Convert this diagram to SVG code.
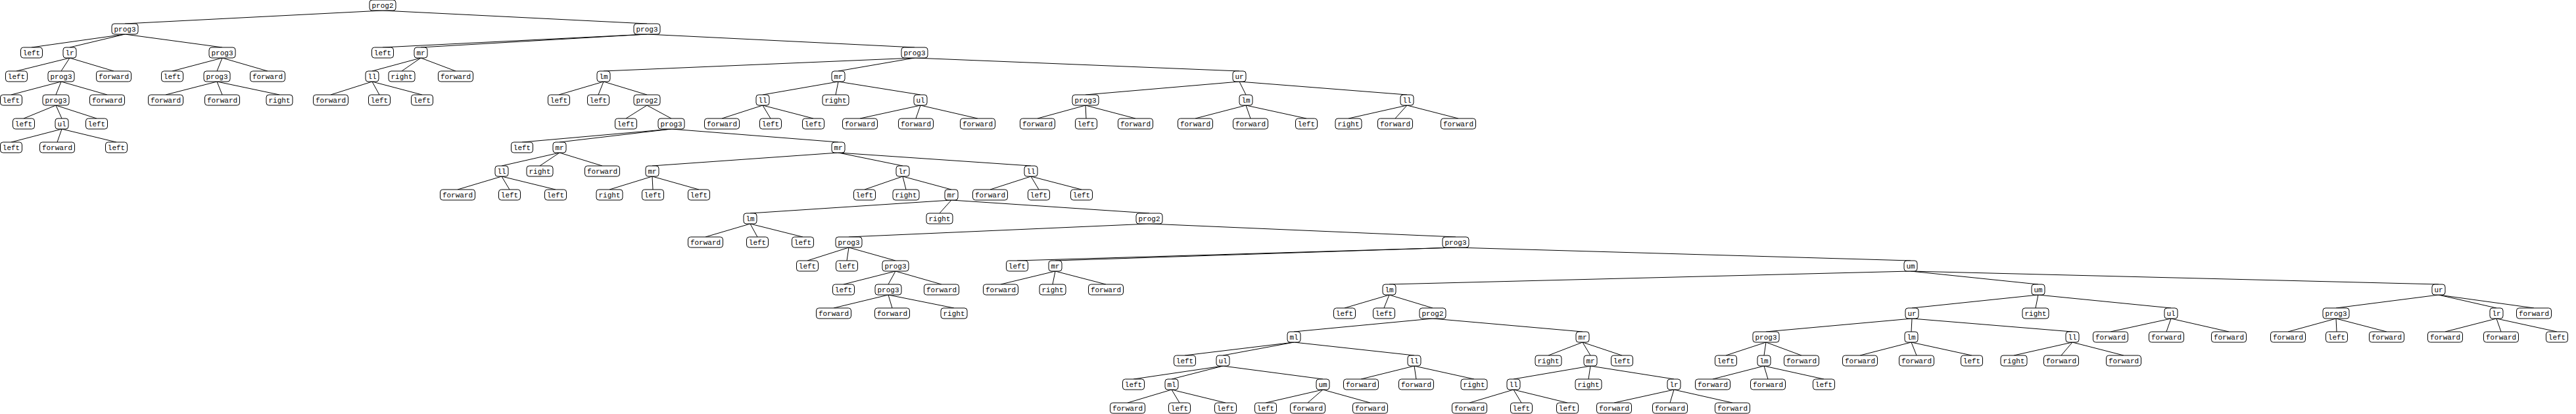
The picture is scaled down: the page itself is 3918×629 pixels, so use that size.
<svg xmlns="http://www.w3.org/2000/svg" width="3918" height="629" viewBox="0 0 3918 629">
<style>
.n rect{fill:#fff;stroke:#000;stroke-width:1;rx:4;ry:4}
.n text{font-family:"Liberation Mono","DejaVu Sans Mono",monospace;font-size:11px;text-anchor:middle;fill:#000}
#edges line{stroke:#000;stroke-width:1}
</style>
<rect width="3918" height="629" fill="#fff"/>
<g id="edges">
<line x1="582" y1="16" x2="190" y2="36"/><line x1="582" y1="16" x2="984" y2="36"/>
<line x1="190" y1="52" x2="48" y2="72"/><line x1="190" y1="52" x2="106" y2="72"/><line x1="190" y1="52" x2="338" y2="72"/>
<line x1="984" y1="52" x2="582" y2="72"/><line x1="984" y1="52" x2="640" y2="72"/><line x1="984" y1="52" x2="1391" y2="72"/>
<line x1="106" y1="88" x2="25" y2="108"/><line x1="106" y1="88" x2="93" y2="108"/><line x1="106" y1="88" x2="173" y2="108"/>
<line x1="338" y1="88" x2="262" y2="108"/><line x1="338" y1="88" x2="330" y2="108"/><line x1="338" y1="88" x2="407" y2="108"/>
<line x1="640" y1="88" x2="566" y2="108"/><line x1="640" y1="88" x2="611" y2="108"/><line x1="640" y1="88" x2="693" y2="108"/>
<line x1="1391" y1="88" x2="918" y2="108"/><line x1="1391" y1="88" x2="1275" y2="108"/><line x1="1391" y1="88" x2="1885" y2="108"/>
<line x1="93" y1="124" x2="17" y2="144"/><line x1="93" y1="124" x2="85" y2="144"/><line x1="93" y1="124" x2="163" y2="144"/>
<line x1="330" y1="124" x2="252" y2="144"/><line x1="330" y1="124" x2="338" y2="144"/><line x1="330" y1="124" x2="425" y2="144"/>
<line x1="566" y1="124" x2="503" y2="144"/><line x1="566" y1="124" x2="577" y2="144"/><line x1="566" y1="124" x2="642" y2="144"/>
<line x1="918" y1="124" x2="850" y2="144"/><line x1="918" y1="124" x2="910" y2="144"/><line x1="918" y1="124" x2="984" y2="144"/>
<line x1="1275" y1="124" x2="1160" y2="144"/><line x1="1275" y1="124" x2="1271" y2="144"/><line x1="1275" y1="124" x2="1400" y2="144"/>
<line x1="1885" y1="124" x2="1651" y2="144"/><line x1="1885" y1="124" x2="1895" y2="144"/><line x1="1885" y1="124" x2="2140" y2="144"/>
<line x1="85" y1="160" x2="36" y2="180"/><line x1="85" y1="160" x2="94" y2="180"/><line x1="85" y1="160" x2="147" y2="180"/>
<line x1="984" y1="160" x2="952" y2="180"/><line x1="984" y1="160" x2="1021" y2="180"/>
<line x1="1160" y1="160" x2="1098" y2="180"/><line x1="1160" y1="160" x2="1172" y2="180"/><line x1="1160" y1="160" x2="1237" y2="180"/>
<line x1="1400" y1="160" x2="1308" y2="180"/><line x1="1400" y1="160" x2="1393" y2="180"/><line x1="1400" y1="160" x2="1487" y2="180"/>
<line x1="1651" y1="160" x2="1578" y2="180"/><line x1="1651" y1="160" x2="1652" y2="180"/><line x1="1651" y1="160" x2="1727" y2="180"/>
<line x1="1895" y1="160" x2="1818" y2="180"/><line x1="1895" y1="160" x2="1902" y2="180"/><line x1="1895" y1="160" x2="1987" y2="180"/>
<line x1="2140" y1="160" x2="2051" y2="180"/><line x1="2140" y1="160" x2="2122" y2="180"/><line x1="2140" y1="160" x2="2218" y2="180"/>
<line x1="94" y1="196" x2="17" y2="216"/><line x1="94" y1="196" x2="87" y2="216"/><line x1="94" y1="196" x2="177" y2="216"/>
<line x1="1021" y1="196" x2="794" y2="216"/><line x1="1021" y1="196" x2="851" y2="216"/><line x1="1021" y1="196" x2="1275" y2="216"/>
<line x1="851" y1="232" x2="763" y2="252"/><line x1="851" y1="232" x2="821" y2="252"/><line x1="851" y1="232" x2="916" y2="252"/>
<line x1="1275" y1="232" x2="992" y2="252"/><line x1="1275" y1="232" x2="1373" y2="252"/><line x1="1275" y1="232" x2="1568" y2="252"/>
<line x1="763" y1="268" x2="696" y2="288"/><line x1="763" y1="268" x2="775" y2="288"/><line x1="763" y1="268" x2="845" y2="288"/>
<line x1="992" y1="268" x2="927" y2="288"/><line x1="992" y1="268" x2="993" y2="288"/><line x1="992" y1="268" x2="1063" y2="288"/>
<line x1="1373" y1="268" x2="1315" y2="288"/><line x1="1373" y1="268" x2="1378" y2="288"/><line x1="1373" y1="268" x2="1447" y2="288"/>
<line x1="1568" y1="268" x2="1506" y2="288"/><line x1="1568" y1="268" x2="1580" y2="288"/><line x1="1568" y1="268" x2="1645" y2="288"/>
<line x1="1447" y1="304" x2="1141" y2="324"/><line x1="1447" y1="304" x2="1429" y2="324"/><line x1="1447" y1="304" x2="1748" y2="324"/>
<line x1="1141" y1="340" x2="1073" y2="360"/><line x1="1141" y1="340" x2="1152" y2="360"/><line x1="1141" y1="340" x2="1221" y2="360"/>
<line x1="1748" y1="340" x2="1291" y2="360"/><line x1="1748" y1="340" x2="2214" y2="360"/>
<line x1="1291" y1="376" x2="1228" y2="396"/><line x1="1291" y1="376" x2="1288" y2="396"/><line x1="1291" y1="376" x2="1362" y2="396"/>
<line x1="2214" y1="376" x2="1547" y2="396"/><line x1="2214" y1="376" x2="1605" y2="396"/><line x1="2214" y1="376" x2="2906" y2="396"/>
<line x1="1362" y1="412" x2="1283" y2="432"/><line x1="1362" y1="412" x2="1351" y2="432"/><line x1="1362" y1="412" x2="1432" y2="432"/>
<line x1="1605" y1="412" x2="1522" y2="432"/><line x1="1605" y1="412" x2="1601" y2="432"/><line x1="1605" y1="412" x2="1682" y2="432"/>
<line x1="2906" y1="412" x2="2113" y2="432"/><line x1="2906" y1="412" x2="3100" y2="432"/><line x1="2906" y1="412" x2="3709" y2="432"/>
<line x1="1351" y1="448" x2="1268" y2="468"/><line x1="1351" y1="448" x2="1357" y2="468"/><line x1="1351" y1="448" x2="1451" y2="468"/>
<line x1="2113" y1="448" x2="2045" y2="468"/><line x1="2113" y1="448" x2="2105" y2="468"/><line x1="2113" y1="448" x2="2179" y2="468"/>
<line x1="3100" y1="448" x2="2908" y2="468"/><line x1="3100" y1="448" x2="3096" y2="468"/><line x1="3100" y1="448" x2="3302" y2="468"/>
<line x1="3709" y1="448" x2="3553" y2="468"/><line x1="3709" y1="448" x2="3797" y2="468"/><line x1="3709" y1="448" x2="3854" y2="468"/>
<line x1="2179" y1="484" x2="1968" y2="504"/><line x1="2179" y1="484" x2="2407" y2="504"/>
<line x1="2908" y1="484" x2="2686" y2="504"/><line x1="2908" y1="484" x2="2907" y2="504"/><line x1="2908" y1="484" x2="3152" y2="504"/>
<line x1="3302" y1="484" x2="3210" y2="504"/><line x1="3302" y1="484" x2="3295" y2="504"/><line x1="3302" y1="484" x2="3390" y2="504"/>
<line x1="3553" y1="484" x2="3480" y2="504"/><line x1="3553" y1="484" x2="3554" y2="504"/><line x1="3553" y1="484" x2="3630" y2="504"/>
<line x1="3797" y1="484" x2="3719" y2="504"/><line x1="3797" y1="484" x2="3804" y2="504"/><line x1="3797" y1="484" x2="3889" y2="504"/>
<line x1="1968" y1="520" x2="1802" y2="540"/><line x1="1968" y1="520" x2="1860" y2="540"/><line x1="1968" y1="520" x2="2151" y2="540"/>
<line x1="2407" y1="520" x2="2355" y2="540"/><line x1="2407" y1="520" x2="2419" y2="540"/><line x1="2407" y1="520" x2="2467" y2="540"/>
<line x1="2686" y1="520" x2="2625" y2="540"/><line x1="2686" y1="520" x2="2683" y2="540"/><line x1="2686" y1="520" x2="2740" y2="540"/>
<line x1="2907" y1="520" x2="2829" y2="540"/><line x1="2907" y1="520" x2="2915" y2="540"/><line x1="2907" y1="520" x2="2999" y2="540"/>
<line x1="3152" y1="520" x2="3063" y2="540"/><line x1="3152" y1="520" x2="3135" y2="540"/><line x1="3152" y1="520" x2="3230" y2="540"/>
<line x1="1860" y1="556" x2="1724" y2="576"/><line x1="1860" y1="556" x2="1782" y2="576"/><line x1="1860" y1="556" x2="2012" y2="576"/>
<line x1="2151" y1="556" x2="2070" y2="576"/><line x1="2151" y1="556" x2="2154" y2="576"/><line x1="2151" y1="556" x2="2242" y2="576"/>
<line x1="2419" y1="556" x2="2302" y2="576"/><line x1="2419" y1="556" x2="2416" y2="576"/><line x1="2419" y1="556" x2="2546" y2="576"/>
<line x1="2683" y1="556" x2="2605" y2="576"/><line x1="2683" y1="556" x2="2689" y2="576"/><line x1="2683" y1="556" x2="2774" y2="576"/>
<line x1="1782" y1="592" x2="1715" y2="612"/><line x1="1782" y1="592" x2="1794" y2="612"/><line x1="1782" y1="592" x2="1864" y2="612"/>
<line x1="2012" y1="592" x2="1925" y2="612"/><line x1="2012" y1="592" x2="1989" y2="612"/><line x1="2012" y1="592" x2="2084" y2="612"/>
<line x1="2302" y1="592" x2="2235" y2="612"/><line x1="2302" y1="592" x2="2314" y2="612"/><line x1="2302" y1="592" x2="2384" y2="612"/>
<line x1="2546" y1="592" x2="2455" y2="612"/><line x1="2546" y1="592" x2="2540" y2="612"/><line x1="2546" y1="592" x2="2635" y2="612"/>
</g>
<g id="nodes">
<g id="n0" class="n"><rect x="562" y="0" width="40" height="16"/><text x="582" y="12">prog2</text></g>
<g id="n1" class="n"><rect x="170" y="36" width="40" height="16"/><text x="190" y="48">prog3</text></g>
<g id="n2" class="n"><rect x="964" y="36" width="40" height="16"/><text x="984" y="48">prog3</text></g>
<g id="n3" class="n"><rect x="31.5" y="72" width="33" height="16"/><text x="48" y="84">left</text></g>
<g id="n4" class="n"><rect x="96" y="72" width="20" height="16"/><text x="106" y="84">lr</text></g>
<g id="n5" class="n"><rect x="318" y="72" width="40" height="16"/><text x="338" y="84">prog3</text></g>
<g id="n6" class="n"><rect x="565.5" y="72" width="33" height="16"/><text x="582" y="84">left</text></g>
<g id="n7" class="n"><rect x="630" y="72" width="20" height="16"/><text x="640" y="84">mr</text></g>
<g id="n8" class="n"><rect x="1371" y="72" width="40" height="16"/><text x="1391" y="84">prog3</text></g>
<g id="n9" class="n"><rect x="8.5" y="108" width="33" height="16"/><text x="25" y="120">left</text></g>
<g id="n10" class="n"><rect x="73" y="108" width="40" height="16"/><text x="93" y="120">prog3</text></g>
<g id="n11" class="n"><rect x="146.5" y="108" width="53" height="16"/><text x="173" y="120">forward</text></g>
<g id="n12" class="n"><rect x="245.5" y="108" width="33" height="16"/><text x="262" y="120">left</text></g>
<g id="n13" class="n"><rect x="310" y="108" width="40" height="16"/><text x="330" y="120">prog3</text></g>
<g id="n14" class="n"><rect x="380.5" y="108" width="53" height="16"/><text x="407" y="120">forward</text></g>
<g id="n15" class="n"><rect x="556" y="108" width="20" height="16"/><text x="566" y="120">ll</text></g>
<g id="n16" class="n"><rect x="591" y="108" width="40" height="16"/><text x="611" y="120">right</text></g>
<g id="n17" class="n"><rect x="666.5" y="108" width="53" height="16"/><text x="693" y="120">forward</text></g>
<g id="n18" class="n"><rect x="908" y="108" width="20" height="16"/><text x="918" y="120">lm</text></g>
<g id="n19" class="n"><rect x="1265" y="108" width="20" height="16"/><text x="1275" y="120">mr</text></g>
<g id="n20" class="n"><rect x="1875" y="108" width="20" height="16"/><text x="1885" y="120">ur</text></g>
<g id="n21" class="n"><rect x="0.5" y="144" width="33" height="16"/><text x="17" y="156">left</text></g>
<g id="n22" class="n"><rect x="65" y="144" width="40" height="16"/><text x="85" y="156">prog3</text></g>
<g id="n23" class="n"><rect x="136.5" y="144" width="53" height="16"/><text x="163" y="156">forward</text></g>
<g id="n24" class="n"><rect x="225.5" y="144" width="53" height="16"/><text x="252" y="156">forward</text></g>
<g id="n25" class="n"><rect x="311.5" y="144" width="53" height="16"/><text x="338" y="156">forward</text></g>
<g id="n26" class="n"><rect x="405" y="144" width="40" height="16"/><text x="425" y="156">right</text></g>
<g id="n27" class="n"><rect x="476.5" y="144" width="53" height="16"/><text x="503" y="156">forward</text></g>
<g id="n28" class="n"><rect x="560.5" y="144" width="33" height="16"/><text x="577" y="156">left</text></g>
<g id="n29" class="n"><rect x="625.5" y="144" width="33" height="16"/><text x="642" y="156">left</text></g>
<g id="n30" class="n"><rect x="833.5" y="144" width="33" height="16"/><text x="850" y="156">left</text></g>
<g id="n31" class="n"><rect x="893.5" y="144" width="33" height="16"/><text x="910" y="156">left</text></g>
<g id="n32" class="n"><rect x="964" y="144" width="40" height="16"/><text x="984" y="156">prog2</text></g>
<g id="n33" class="n"><rect x="1150" y="144" width="20" height="16"/><text x="1160" y="156">ll</text></g>
<g id="n34" class="n"><rect x="1251" y="144" width="40" height="16"/><text x="1271" y="156">right</text></g>
<g id="n35" class="n"><rect x="1390" y="144" width="20" height="16"/><text x="1400" y="156">ul</text></g>
<g id="n36" class="n"><rect x="1631" y="144" width="40" height="16"/><text x="1651" y="156">prog3</text></g>
<g id="n37" class="n"><rect x="1885" y="144" width="20" height="16"/><text x="1895" y="156">lm</text></g>
<g id="n38" class="n"><rect x="2130" y="144" width="20" height="16"/><text x="2140" y="156">ll</text></g>
<g id="n39" class="n"><rect x="19.5" y="180" width="33" height="16"/><text x="36" y="192">left</text></g>
<g id="n40" class="n"><rect x="84" y="180" width="20" height="16"/><text x="94" y="192">ul</text></g>
<g id="n41" class="n"><rect x="130.5" y="180" width="33" height="16"/><text x="147" y="192">left</text></g>
<g id="n42" class="n"><rect x="935.5" y="180" width="33" height="16"/><text x="952" y="192">left</text></g>
<g id="n43" class="n"><rect x="1001" y="180" width="40" height="16"/><text x="1021" y="192">prog3</text></g>
<g id="n44" class="n"><rect x="1071.5" y="180" width="53" height="16"/><text x="1098" y="192">forward</text></g>
<g id="n45" class="n"><rect x="1155.5" y="180" width="33" height="16"/><text x="1172" y="192">left</text></g>
<g id="n46" class="n"><rect x="1220.5" y="180" width="33" height="16"/><text x="1237" y="192">left</text></g>
<g id="n47" class="n"><rect x="1281.5" y="180" width="53" height="16"/><text x="1308" y="192">forward</text></g>
<g id="n48" class="n"><rect x="1366.5" y="180" width="53" height="16"/><text x="1393" y="192">forward</text></g>
<g id="n49" class="n"><rect x="1460.5" y="180" width="53" height="16"/><text x="1487" y="192">forward</text></g>
<g id="n50" class="n"><rect x="1551.5" y="180" width="53" height="16"/><text x="1578" y="192">forward</text></g>
<g id="n51" class="n"><rect x="1635.5" y="180" width="33" height="16"/><text x="1652" y="192">left</text></g>
<g id="n52" class="n"><rect x="1700.5" y="180" width="53" height="16"/><text x="1727" y="192">forward</text></g>
<g id="n53" class="n"><rect x="1791.5" y="180" width="53" height="16"/><text x="1818" y="192">forward</text></g>
<g id="n54" class="n"><rect x="1875.5" y="180" width="53" height="16"/><text x="1902" y="192">forward</text></g>
<g id="n55" class="n"><rect x="1970.5" y="180" width="33" height="16"/><text x="1987" y="192">left</text></g>
<g id="n56" class="n"><rect x="2031" y="180" width="40" height="16"/><text x="2051" y="192">right</text></g>
<g id="n57" class="n"><rect x="2095.5" y="180" width="53" height="16"/><text x="2122" y="192">forward</text></g>
<g id="n58" class="n"><rect x="2191.5" y="180" width="53" height="16"/><text x="2218" y="192">forward</text></g>
<g id="n59" class="n"><rect x="0.5" y="216" width="33" height="16"/><text x="17" y="228">left</text></g>
<g id="n60" class="n"><rect x="60.5" y="216" width="53" height="16"/><text x="87" y="228">forward</text></g>
<g id="n61" class="n"><rect x="160.5" y="216" width="33" height="16"/><text x="177" y="228">left</text></g>
<g id="n62" class="n"><rect x="777.5" y="216" width="33" height="16"/><text x="794" y="228">left</text></g>
<g id="n63" class="n"><rect x="841" y="216" width="20" height="16"/><text x="851" y="228">mr</text></g>
<g id="n64" class="n"><rect x="1265" y="216" width="20" height="16"/><text x="1275" y="228">mr</text></g>
<g id="n65" class="n"><rect x="753" y="252" width="20" height="16"/><text x="763" y="264">ll</text></g>
<g id="n66" class="n"><rect x="801" y="252" width="40" height="16"/><text x="821" y="264">right</text></g>
<g id="n67" class="n"><rect x="889.5" y="252" width="53" height="16"/><text x="916" y="264">forward</text></g>
<g id="n68" class="n"><rect x="982" y="252" width="20" height="16"/><text x="992" y="264">mr</text></g>
<g id="n69" class="n"><rect x="1363" y="252" width="20" height="16"/><text x="1373" y="264">lr</text></g>
<g id="n70" class="n"><rect x="1558" y="252" width="20" height="16"/><text x="1568" y="264">ll</text></g>
<g id="n71" class="n"><rect x="669.5" y="288" width="53" height="16"/><text x="696" y="300">forward</text></g>
<g id="n72" class="n"><rect x="758.5" y="288" width="33" height="16"/><text x="775" y="300">left</text></g>
<g id="n73" class="n"><rect x="828.5" y="288" width="33" height="16"/><text x="845" y="300">left</text></g>
<g id="n74" class="n"><rect x="907" y="288" width="40" height="16"/><text x="927" y="300">right</text></g>
<g id="n75" class="n"><rect x="976.5" y="288" width="33" height="16"/><text x="993" y="300">left</text></g>
<g id="n76" class="n"><rect x="1046.5" y="288" width="33" height="16"/><text x="1063" y="300">left</text></g>
<g id="n77" class="n"><rect x="1298.5" y="288" width="33" height="16"/><text x="1315" y="300">left</text></g>
<g id="n78" class="n"><rect x="1358" y="288" width="40" height="16"/><text x="1378" y="300">right</text></g>
<g id="n79" class="n"><rect x="1437" y="288" width="20" height="16"/><text x="1447" y="300">mr</text></g>
<g id="n80" class="n"><rect x="1479.5" y="288" width="53" height="16"/><text x="1506" y="300">forward</text></g>
<g id="n81" class="n"><rect x="1563.5" y="288" width="33" height="16"/><text x="1580" y="300">left</text></g>
<g id="n82" class="n"><rect x="1628.5" y="288" width="33" height="16"/><text x="1645" y="300">left</text></g>
<g id="n83" class="n"><rect x="1131" y="324" width="20" height="16"/><text x="1141" y="336">lm</text></g>
<g id="n84" class="n"><rect x="1409" y="324" width="40" height="16"/><text x="1429" y="336">right</text></g>
<g id="n85" class="n"><rect x="1728" y="324" width="40" height="16"/><text x="1748" y="336">prog2</text></g>
<g id="n86" class="n"><rect x="1046.5" y="360" width="53" height="16"/><text x="1073" y="372">forward</text></g>
<g id="n87" class="n"><rect x="1135.5" y="360" width="33" height="16"/><text x="1152" y="372">left</text></g>
<g id="n88" class="n"><rect x="1204.5" y="360" width="33" height="16"/><text x="1221" y="372">left</text></g>
<g id="n89" class="n"><rect x="1271" y="360" width="40" height="16"/><text x="1291" y="372">prog3</text></g>
<g id="n90" class="n"><rect x="2194" y="360" width="40" height="16"/><text x="2214" y="372">prog3</text></g>
<g id="n91" class="n"><rect x="1211.5" y="396" width="33" height="16"/><text x="1228" y="408">left</text></g>
<g id="n92" class="n"><rect x="1271.5" y="396" width="33" height="16"/><text x="1288" y="408">left</text></g>
<g id="n93" class="n"><rect x="1342" y="396" width="40" height="16"/><text x="1362" y="408">prog3</text></g>
<g id="n94" class="n"><rect x="1530.5" y="396" width="33" height="16"/><text x="1547" y="408">left</text></g>
<g id="n95" class="n"><rect x="1595" y="396" width="20" height="16"/><text x="1605" y="408">mr</text></g>
<g id="n96" class="n"><rect x="2896" y="396" width="20" height="16"/><text x="2906" y="408">um</text></g>
<g id="n97" class="n"><rect x="1266.5" y="432" width="33" height="16"/><text x="1283" y="444">left</text></g>
<g id="n98" class="n"><rect x="1331" y="432" width="40" height="16"/><text x="1351" y="444">prog3</text></g>
<g id="n99" class="n"><rect x="1405.5" y="432" width="53" height="16"/><text x="1432" y="444">forward</text></g>
<g id="n100" class="n"><rect x="1495.5" y="432" width="53" height="16"/><text x="1522" y="444">forward</text></g>
<g id="n101" class="n"><rect x="1581" y="432" width="40" height="16"/><text x="1601" y="444">right</text></g>
<g id="n102" class="n"><rect x="1655.5" y="432" width="53" height="16"/><text x="1682" y="444">forward</text></g>
<g id="n103" class="n"><rect x="2103" y="432" width="20" height="16"/><text x="2113" y="444">lm</text></g>
<g id="n104" class="n"><rect x="3090" y="432" width="20" height="16"/><text x="3100" y="444">um</text></g>
<g id="n105" class="n"><rect x="3699" y="432" width="20" height="16"/><text x="3709" y="444">ur</text></g>
<g id="n106" class="n"><rect x="1241.5" y="468" width="53" height="16"/><text x="1268" y="480">forward</text></g>
<g id="n107" class="n"><rect x="1330.5" y="468" width="53" height="16"/><text x="1357" y="480">forward</text></g>
<g id="n108" class="n"><rect x="1431" y="468" width="40" height="16"/><text x="1451" y="480">right</text></g>
<g id="n109" class="n"><rect x="2028.5" y="468" width="33" height="16"/><text x="2045" y="480">left</text></g>
<g id="n110" class="n"><rect x="2088.5" y="468" width="33" height="16"/><text x="2105" y="480">left</text></g>
<g id="n111" class="n"><rect x="2159" y="468" width="40" height="16"/><text x="2179" y="480">prog2</text></g>
<g id="n112" class="n"><rect x="2898" y="468" width="20" height="16"/><text x="2908" y="480">ur</text></g>
<g id="n113" class="n"><rect x="3076" y="468" width="40" height="16"/><text x="3096" y="480">right</text></g>
<g id="n114" class="n"><rect x="3292" y="468" width="20" height="16"/><text x="3302" y="480">ul</text></g>
<g id="n115" class="n"><rect x="3533" y="468" width="40" height="16"/><text x="3553" y="480">prog3</text></g>
<g id="n116" class="n"><rect x="3787" y="468" width="20" height="16"/><text x="3797" y="480">lr</text></g>
<g id="n117" class="n"><rect x="3827.5" y="468" width="53" height="16"/><text x="3854" y="480">forward</text></g>
<g id="n118" class="n"><rect x="1958" y="504" width="20" height="16"/><text x="1968" y="516">ml</text></g>
<g id="n119" class="n"><rect x="2397" y="504" width="20" height="16"/><text x="2407" y="516">mr</text></g>
<g id="n120" class="n"><rect x="2666" y="504" width="40" height="16"/><text x="2686" y="516">prog3</text></g>
<g id="n121" class="n"><rect x="2897" y="504" width="20" height="16"/><text x="2907" y="516">lm</text></g>
<g id="n122" class="n"><rect x="3142" y="504" width="20" height="16"/><text x="3152" y="516">ll</text></g>
<g id="n123" class="n"><rect x="3183.5" y="504" width="53" height="16"/><text x="3210" y="516">forward</text></g>
<g id="n124" class="n"><rect x="3268.5" y="504" width="53" height="16"/><text x="3295" y="516">forward</text></g>
<g id="n125" class="n"><rect x="3363.5" y="504" width="53" height="16"/><text x="3390" y="516">forward</text></g>
<g id="n126" class="n"><rect x="3453.5" y="504" width="53" height="16"/><text x="3480" y="516">forward</text></g>
<g id="n127" class="n"><rect x="3537.5" y="504" width="33" height="16"/><text x="3554" y="516">left</text></g>
<g id="n128" class="n"><rect x="3603.5" y="504" width="53" height="16"/><text x="3630" y="516">forward</text></g>
<g id="n129" class="n"><rect x="3692.5" y="504" width="53" height="16"/><text x="3719" y="516">forward</text></g>
<g id="n130" class="n"><rect x="3777.5" y="504" width="53" height="16"/><text x="3804" y="516">forward</text></g>
<g id="n131" class="n"><rect x="3872.5" y="504" width="33" height="16"/><text x="3889" y="516">left</text></g>
<g id="n132" class="n"><rect x="1785.5" y="540" width="33" height="16"/><text x="1802" y="552">left</text></g>
<g id="n133" class="n"><rect x="1850" y="540" width="20" height="16"/><text x="1860" y="552">ul</text></g>
<g id="n134" class="n"><rect x="2141" y="540" width="20" height="16"/><text x="2151" y="552">ll</text></g>
<g id="n135" class="n"><rect x="2335" y="540" width="40" height="16"/><text x="2355" y="552">right</text></g>
<g id="n136" class="n"><rect x="2409" y="540" width="20" height="16"/><text x="2419" y="552">mr</text></g>
<g id="n137" class="n"><rect x="2450.5" y="540" width="33" height="16"/><text x="2467" y="552">left</text></g>
<g id="n138" class="n"><rect x="2608.5" y="540" width="33" height="16"/><text x="2625" y="552">left</text></g>
<g id="n139" class="n"><rect x="2673" y="540" width="20" height="16"/><text x="2683" y="552">lm</text></g>
<g id="n140" class="n"><rect x="2713.5" y="540" width="53" height="16"/><text x="2740" y="552">forward</text></g>
<g id="n141" class="n"><rect x="2802.5" y="540" width="53" height="16"/><text x="2829" y="552">forward</text></g>
<g id="n142" class="n"><rect x="2888.5" y="540" width="53" height="16"/><text x="2915" y="552">forward</text></g>
<g id="n143" class="n"><rect x="2982.5" y="540" width="33" height="16"/><text x="2999" y="552">left</text></g>
<g id="n144" class="n"><rect x="3043" y="540" width="40" height="16"/><text x="3063" y="552">right</text></g>
<g id="n145" class="n"><rect x="3108.5" y="540" width="53" height="16"/><text x="3135" y="552">forward</text></g>
<g id="n146" class="n"><rect x="3203.5" y="540" width="53" height="16"/><text x="3230" y="552">forward</text></g>
<g id="n147" class="n"><rect x="1707.5" y="576" width="33" height="16"/><text x="1724" y="588">left</text></g>
<g id="n148" class="n"><rect x="1772" y="576" width="20" height="16"/><text x="1782" y="588">ml</text></g>
<g id="n149" class="n"><rect x="2002" y="576" width="20" height="16"/><text x="2012" y="588">um</text></g>
<g id="n150" class="n"><rect x="2043.5" y="576" width="53" height="16"/><text x="2070" y="588">forward</text></g>
<g id="n151" class="n"><rect x="2127.5" y="576" width="53" height="16"/><text x="2154" y="588">forward</text></g>
<g id="n152" class="n"><rect x="2222" y="576" width="40" height="16"/><text x="2242" y="588">right</text></g>
<g id="n153" class="n"><rect x="2292" y="576" width="20" height="16"/><text x="2302" y="588">ll</text></g>
<g id="n154" class="n"><rect x="2396" y="576" width="40" height="16"/><text x="2416" y="588">right</text></g>
<g id="n155" class="n"><rect x="2536" y="576" width="20" height="16"/><text x="2546" y="588">lr</text></g>
<g id="n156" class="n"><rect x="2578.5" y="576" width="53" height="16"/><text x="2605" y="588">forward</text></g>
<g id="n157" class="n"><rect x="2662.5" y="576" width="53" height="16"/><text x="2689" y="588">forward</text></g>
<g id="n158" class="n"><rect x="2757.5" y="576" width="33" height="16"/><text x="2774" y="588">left</text></g>
<g id="n159" class="n"><rect x="1688.5" y="612" width="53" height="16"/><text x="1715" y="624">forward</text></g>
<g id="n160" class="n"><rect x="1777.5" y="612" width="33" height="16"/><text x="1794" y="624">left</text></g>
<g id="n161" class="n"><rect x="1847.5" y="612" width="33" height="16"/><text x="1864" y="624">left</text></g>
<g id="n162" class="n"><rect x="1908.5" y="612" width="33" height="16"/><text x="1925" y="624">left</text></g>
<g id="n163" class="n"><rect x="1962.5" y="612" width="53" height="16"/><text x="1989" y="624">forward</text></g>
<g id="n164" class="n"><rect x="2057.5" y="612" width="53" height="16"/><text x="2084" y="624">forward</text></g>
<g id="n165" class="n"><rect x="2208.5" y="612" width="53" height="16"/><text x="2235" y="624">forward</text></g>
<g id="n166" class="n"><rect x="2297.5" y="612" width="33" height="16"/><text x="2314" y="624">left</text></g>
<g id="n167" class="n"><rect x="2367.5" y="612" width="33" height="16"/><text x="2384" y="624">left</text></g>
<g id="n168" class="n"><rect x="2428.5" y="612" width="53" height="16"/><text x="2455" y="624">forward</text></g>
<g id="n169" class="n"><rect x="2513.5" y="612" width="53" height="16"/><text x="2540" y="624">forward</text></g>
<g id="n170" class="n"><rect x="2608.5" y="612" width="53" height="16"/><text x="2635" y="624">forward</text></g>
</g>
</svg>
